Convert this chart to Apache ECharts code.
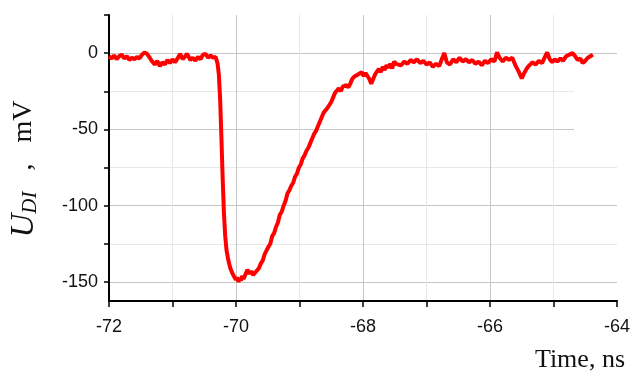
<!DOCTYPE html>
<html>
<head>
<meta charset="utf-8">
<script src="https://cdn.jsdelivr.net/npm/echarts@6/dist/echarts.min.js"></script>
<style>
  html, body { margin: 0; padding: 0; background: #fff; }
  #main { width: 632px; height: 373px; }
</style>
</head>
<body>
<div id="main"></div>
<script>
// axis ranges and tick values
const xRange = [-72, -64];
const yRange = [-162.5, 25];
const yTickValues = [-150, -125, -100, -75, -50, -25, 0, 25];
const yLabelValues = [-150, -100, -50, 0];

// trace: [time ns, U mV]
const baseline = [
  [-72.00, -2], [-71.96, -3.5], [-71.92, -1.5], [-71.88, -4], [-71.84, -2], [-71.80, -1],
  [-71.76, -3.5], [-71.72, -2], [-71.68, -4.5], [-71.64, -3], [-71.60, -4], [-71.56, -2.5],
  [-71.52, -3.5], [-71.48, -1], [-71.44, 0.5], [-71.40, -0.5], [-71.36, -3], [-71.32, -5.5],
  [-71.28, -7.5], [-71.24, -5], [-71.20, -8.5], [-71.16, -6], [-71.12, -7.5], [-71.08, -4.5],
  [-71.04, -6.5], [-71.00, -4], [-70.96, -6], [-70.92, -3.5], [-70.88, -0.5], [-70.84, -4],
  [-70.80, -2], [-70.77, -0.5], [-70.72, -4.5], [-70.68, -3], [-70.64, -5], [-70.60, -2.5],
  [-70.56, -4], [-70.52, -1], [-70.48, -0.5], [-70.44, -3], [-70.40, -1.5], [-70.36, -3],
  [-70.32, -2.5], [-70.29, -7]
];
const fall = [
  [-70.27, -14], [-70.25, -30], [-70.23, -55], [-70.21, -82], [-70.19, -105], [-70.17, -120],
  [-70.15, -129], [-70.12, -136], [-70.09, -141], [-70.06, -144], [-70.03, -146.5], [-70.00, -148.5],
  [-69.98, -147], [-69.96, -150], [-69.94, -147.5], [-69.92, -149], [-69.90, -146], [-69.88, -148],
  [-69.85, -145], [-69.82, -142], [-69.79, -144.5], [-69.76, -143], [-69.73, -145.5], [-69.70, -144],
  [-69.67, -145], [-69.64, -141]
];
const recovery = [
  [-69.61, -138], [-69.58, -136], [-69.55, -132], [-69.52, -131], [-69.49, -127], [-69.46, -125],
  [-69.43, -120], [-69.40, -118], [-69.37, -114], [-69.34, -111], [-69.31, -106], [-69.28, -104],
  [-69.25, -100], [-69.22, -97], [-69.19, -92], [-69.16, -90], [-69.13, -87], [-69.10, -85],
  [-69.07, -81], [-69.04, -79], [-69.01, -75], [-68.98, -73], [-68.95, -69], [-68.92, -67],
  [-68.89, -64], [-68.86, -62], [-68.83, -59], [-68.80, -56], [-68.77, -53], [-68.74, -51],
  [-68.71, -48], [-68.68, -45], [-68.65, -42], [-68.62, -39], [-68.59, -38], [-68.56, -36],
  [-68.53, -35], [-68.50, -32], [-68.47, -29], [-68.44, -26], [-68.41, -25], [-68.38, -23],
  [-68.35, -25], [-68.32, -22], [-68.29, -23], [-68.26, -21], [-68.23, -22.5], [-68.20, -20],
  [-68.17, -17], [-68.14, -15.5], [-68.11, -16.5], [-68.08, -14], [-68.05, -15], [-68.02, -12.5],
  [-67.99, -15], [-67.96, -13], [-67.93, -14], [-67.90, -17], [-67.87, -20], [-67.84, -17],
  [-67.81, -14], [-67.78, -12], [-67.75, -10.5], [-67.72, -12.5], [-67.69, -9], [-67.66, -11],
  [-67.63, -8], [-67.60, -9.5], [-67.57, -7], [-67.54, -10], [-67.51, -5.5], [-67.48, -7]
];
const tail = [
  [-67.45, -6.5], [-67.40, -8], [-67.35, -5.5], [-67.30, -7], [-67.25, -4.5], [-67.20, -6],
  [-67.15, -4], [-67.10, -6.5], [-67.05, -5], [-67.00, -7.5], [-66.95, -6], [-66.90, -9],
  [-66.85, -7], [-66.80, -8.5], [-66.75, -3], [-66.72, 0], [-66.68, -6], [-66.63, -7.5],
  [-66.58, -4], [-66.53, -6], [-66.48, -3], [-66.43, -5.5], [-66.38, -4], [-66.33, -6],
  [-66.28, -4.5], [-66.23, -7], [-66.18, -5.5], [-66.13, -8], [-66.08, -5], [-66.03, -6.5],
  [-65.98, -4], [-65.93, -5.5], [-65.89, 0.5], [-65.85, -3], [-65.80, -5.5], [-65.75, -3],
  [-65.70, -4.5], [-65.65, -3], [-65.60, -8], [-65.55, -12], [-65.50, -16.5], [-65.46, -13],
  [-65.42, -10], [-65.38, -8], [-65.33, -6], [-65.28, -7.5], [-65.23, -5], [-65.18, -6.5],
  [-65.14, -3], [-65.10, 0.5], [-65.06, -4], [-65.02, -6], [-64.98, -4], [-64.94, -5.5],
  [-64.89, -3.5], [-64.85, -5], [-64.80, -2], [-64.75, -1], [-64.70, 0], [-64.66, -2],
  [-64.62, -4.5], [-64.58, -3.5], [-64.54, -6.5], [-64.50, -5], [-64.46, -3], [-64.42, -2],
  [-64.38, -1]
];
const trace = [...baseline, ...fall, ...recovery, ...tail];

const labelFont = "'Liberation Sans', Arial, sans-serif";
const serifFont = "'Liberation Serif', 'Times New Roman', serif";

const myChart = echarts.init(document.getElementById("main"));
const option = {
  animation: false,
  backgroundColor: "#fff",
  grid: { left: 109, right: 15, top: 15, bottom: 72, outerBoundsMode: "none" },
  xAxis: {
    type: "value",
    min: xRange[0],
    max: xRange[1],
    interval: 2,
    axisLine: { onZero: false, lineStyle: { color: "#000", width: 2 } },
    axisTick: { show: true, length: 6, lineStyle: { color: "#000", width: 1.5 } },
    minorTick: { show: true, splitNumber: 2, length: 6, lineStyle: { color: "#000", width: 1.5 } },
    axisLabel: { fontSize: 18, color: "#111", margin: 17, fontFamily: labelFont },
    splitLine: { show: true, showMinLine: false, showMaxLine: false, lineStyle: { color: "#c6c6c6", width: 1 } },
    minorSplitLine: { show: true, lineStyle: { color: "#e8e8e8", width: 1 } },
  },
  yAxis: {
    type: "value",
    min: yRange[0],
    max: yRange[1],
    axisLine: { show: true, onZero: false, lineStyle: { color: "#000", width: 2 } },
    axisTick: { show: true, length: 5, customValues: yTickValues, lineStyle: { color: "#000", width: 1.5 } },
    axisLabel: { customValues: yLabelValues, fontSize: 18, color: "#111", margin: 11, fontFamily: labelFont },
    splitLine: { show: true, showMaxLine: false, lineStyle: { color: ["#c6c6c6", "#e8e8e8"], width: 1 } },
    name: "{u|U}{sub|DI}{rest|   ,   mV}",
    nameLocation: "middle",
    nameRotate: 90,
    nameGap: 68,
    nameTextStyle: {
      padding: [0, 22, 0, 0],
      rich: {
        u: { fontSize: 33, fontStyle: "italic", fontFamily: serifFont, color: "#111", lineHeight: 34, verticalAlign: "middle" },
        sub: { fontSize: 21, fontStyle: "italic", fontFamily: serifFont, color: "#111", lineHeight: 34, verticalAlign: "bottom" },
        rest: { fontSize: 28, fontFamily: serifFont, color: "#111", lineHeight: 34, verticalAlign: "middle" },
      },
    },
  },
  graphic: [
    {
      type: "rect",
      z: 1,
      shape: { x: 574, y: 84, width: 44, height: 50 },
      style: { fill: "#fff" },
    },
    {
      type: "text",
      right: 7,
      top: 347,
      style: { text: "Time, ns", font: "26px " + serifFont, fill: "#111" },
    },
  ],
  series: [
    {
      type: "line",
      data: trace,
      showSymbol: false,
      z: 3,
      lineStyle: { color: "#ff0000", width: 4 },
    },
  ],
};
myChart.setOption(option);
</script>
</body>
</html>
